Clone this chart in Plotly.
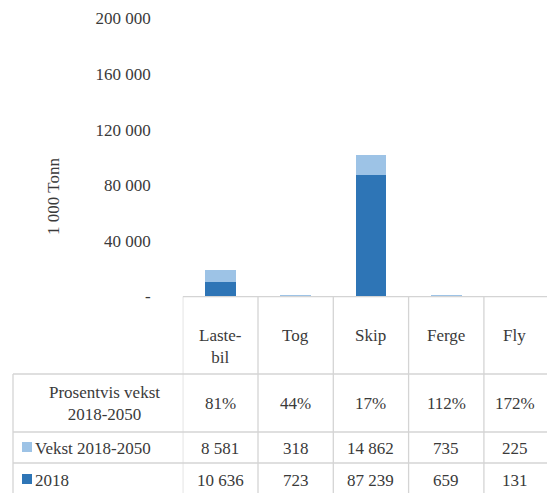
import plotly.graph_objects as go

# ---------------- data ----------------
categories = ["Laste-<br>bil", "Tog", "Skip", "Ferge", "Fly"]
base_2018 = [10636, 723, 87239, 659, 131]
growth_2018_2050 = [8581, 318, 14862, 735, 225]
pct_growth = ["81%", "44%", "17%", "112%", "172%"]
series_names = ["Vekst 2018-2050", "2018"]
pct_row_label = "Prosentvis vekst<br>2018-2050"
y_tick_vals = [0, 40000, 80000, 120000, 160000, 200000]
y_tick_text = ["-", "40 000", "80 000", "120 000", "160 000", "200 000"]
y_title = "1 000 Tonn"

# ---------------- style ----------------
W, H = 547, 493
DARK = "#2E75B6"
LIGHT = "#9DC3E6"
GRID = "#D4D4D4"
TXT = "#3A3A3A"
FONT = '"Liberation Serif", "Times New Roman", "DejaVu Serif", serif'
FS = 17

def xp(px):
    return px / W

def yp(py):
    return 1 - py / H

idx = list(range(len(categories)))
col_w = 75.3
x_left = 182.7

fig = go.Figure()
fig.add_trace(go.Bar(x=idx, y=base_2018, name=series_names[1],
                     marker=dict(color=DARK, line=dict(width=0)), width=0.41))
fig.add_trace(go.Bar(x=idx, y=growth_2018_2050, name=series_names[0],
                     marker=dict(color=LIGHT, line=dict(width=0)), width=0.41))

fig.update_layout(
    width=W, height=H,
    margin=dict(l=0, r=0, t=0, b=0),
    paper_bgcolor="white", plot_bgcolor="white",
    barmode="stack", showlegend=False,
    font=dict(family=FONT, size=FS, color=TXT),
    xaxis=dict(domain=[xp(x_left), 1],
               range=[-0.5, -0.5 + (W - x_left) / col_w],
               showticklabels=False, showgrid=False, zeroline=False,
               showline=False, ticks="", fixedrange=True),
    yaxis=dict(domain=[yp(296.5), yp(18.5)], range=[0, 200000],
               tickvals=y_tick_vals, ticktext=y_tick_text,
               showgrid=False, zeroline=False, showline=False, ticks="",
               ticklabelstandoff=31, automargin=False,
               tickfont=dict(family=FONT, size=FS, color=TXT)),
)

shapes = []
line = dict(color=GRID, width=1.3)
y_top_hdr = 296.7
y_rows = [374, 432, 463]
y_bottom = 500
shapes.append(dict(type="line", xref="x", yref="paper", x0=-0.5, x1=10,
                   y0=yp(y_top_hdr), y1=yp(y_top_hdr), line=line))
for r in y_rows:
    shapes.append(dict(type="line", xref="paper", yref="paper", x0=xp(13), x1=1,
                       y0=yp(r), y1=yp(r), line=line))
shapes.append(dict(type="line", xref="paper", yref="paper", x0=xp(13), x1=xp(13),
                   y0=yp(y_rows[0]), y1=yp(y_bottom), line=line))
for i in idx:
    shapes.append(dict(type="line", xref="x", yref="paper", x0=i - 0.5, x1=i - 0.5,
                       y0=yp(y_top_hdr), y1=yp(y_bottom), line=line))
shapes.append(dict(type="rect", xref="paper", yref="paper", x0=xp(22), x1=xp(32),
                   y0=yp(452), y1=yp(442), fillcolor=LIGHT, line=dict(width=0)))
shapes.append(dict(type="rect", xref="paper", yref="paper", x0=xp(22), x1=xp(32),
                   y0=yp(484), y1=yp(474), fillcolor=DARK, line=dict(width=0)))

ann = []
def fmt(v):
    return f"{v:,}".replace(",", " ")

for i, c in enumerate(categories):
    xs = -7 if i == len(categories) - 1 else 0
    ann.append(dict(x=i, xref="x", y=yp(324), yref="paper", text=c, showarrow=False,
                    xanchor="center", yanchor="top", align="center", xshift=xs))
    ann.append(dict(x=i, xref="x", y=yp(403), yref="paper", text=pct_growth[i],
                    showarrow=False, xanchor="center", yanchor="middle", xshift=xs))
    ann.append(dict(x=i, xref="x", y=yp(448), yref="paper", text=fmt(growth_2018_2050[i]),
                    showarrow=False, xanchor="center", yanchor="middle", xshift=xs))
    ann.append(dict(x=i, xref="x", y=yp(480), yref="paper", text=fmt(base_2018[i]),
                    showarrow=False, xanchor="center", yanchor="middle", xshift=xs))

ann.append(dict(x=xp(104), xref="paper", y=yp(403), yref="paper", text=pct_row_label,
                showarrow=False, xanchor="center", yanchor="middle", align="center"))
ann.append(dict(x=xp(33), xref="paper", y=yp(448), yref="paper", text=series_names[0],
                showarrow=False, xanchor="left", yanchor="middle"))
ann.append(dict(x=xp(33), xref="paper", y=yp(480), yref="paper", text=series_names[1],
                showarrow=False, xanchor="left", yanchor="middle"))
ann.append(dict(x=xp(53), xref="paper", y=yp(197), yref="paper", text=y_title,
                showarrow=False, textangle=-90, xanchor="center", yanchor="middle"))

fig.update_layout(shapes=shapes, annotations=ann)
fig.write_html("out.html", config={"displayModeBar": False},
               post_script="document.body.style.margin='0';document.body.style.overflow='hidden';")
